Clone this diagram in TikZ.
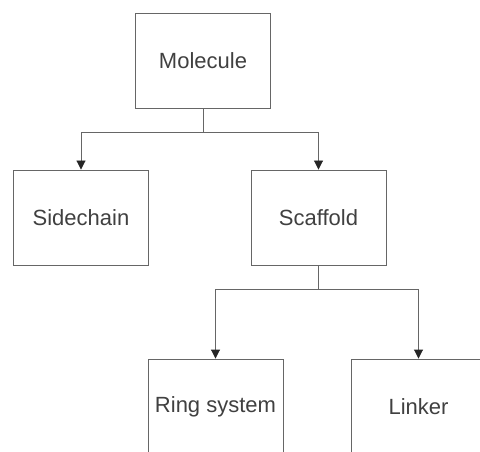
\documentclass[tikz,border=0pt]{standalone}
\usepackage{fontspec}
\setmainfont{Liberation Sans}
\usetikzlibrary{arrows.meta}
\begin{document}
\begin{tikzpicture}[x=1pt, y=-1pt,
    every node/.style={draw=black!60, line width=0.9pt, minimum height=95pt,
    minimum width=135pt, inner sep=0pt, font=\fontsize{22}{26}\selectfont,
    text=black!75, align=center},
    link/.style={draw=black!60, line width=0.9pt},
    arr/.style={link, -{Triangle[width=9pt, length=9pt, color=black!85]}}]
  \useasboundingbox (0,0) rectangle (480,452);
  \node (mol) at (203,60.5) {Molecule};
  \node (side) at (81,217.5) {Sidechain};
  \node (scaf) at (318.5,217.5) {Scaffold};
  \node (ring) at (215.5,406.5) {Ring system};
  \node (link) at (418.5,406.5) {Linker};
  \coordinate (j1) at (203,132);
  \coordinate (j2) at (318.5,289);
  \draw[link] (mol) -- (j1);
  \draw[arr] (j1) -| (side);
  \draw[arr] (j1) -| (scaf);
  \draw[link] (scaf) -- (j2);
  \draw[arr] (j2) -| (ring);
  \draw[arr] (j2) -| (link);
\end{tikzpicture}
\end{document}
